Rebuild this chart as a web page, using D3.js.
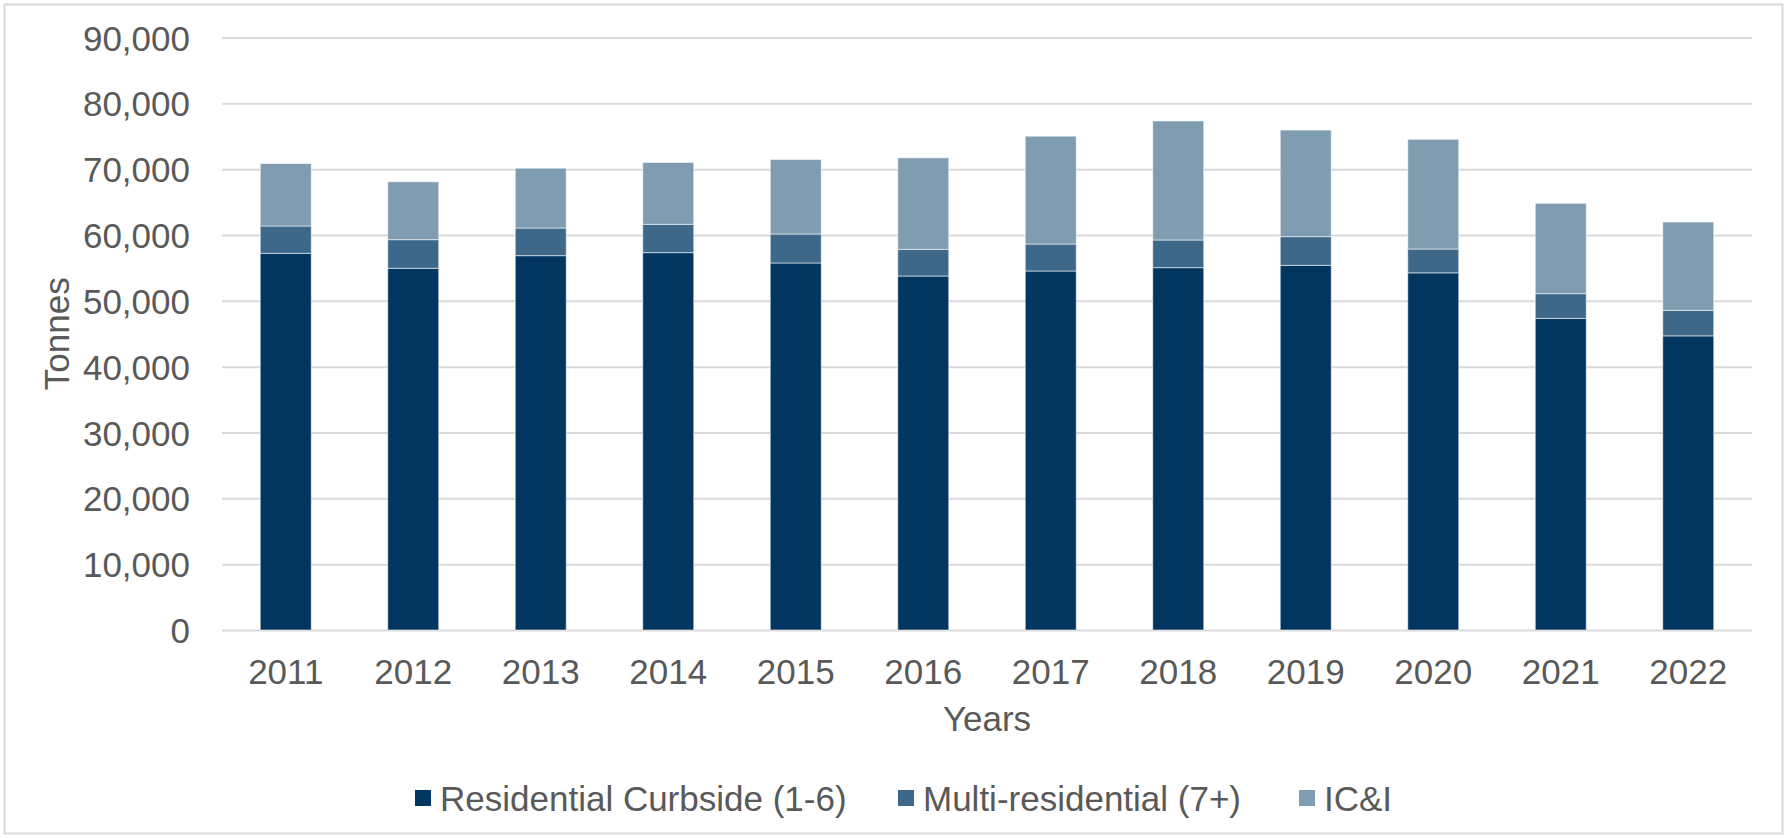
<!DOCTYPE html>
<html>
<head>
<meta charset="utf-8">
<script src="https://cdn.jsdelivr.net/npm/d3@7"></script>
<style>
  html, body { margin: 0; padding: 0; background: #fff; }
  svg { display: block; font-family: "Liberation Sans", Arial, sans-serif; }
</style>
</head>
<body>
<svg id="chart" width="1787" height="838"></svg>
<script>
// Tonnes collected per year, by sector
const years = ["2011","2012","2013","2014","2015","2016","2017","2018","2019","2020","2021","2022"];
const residentialCurbside = [57220, 54940, 56860, 57320, 55750, 53770, 54530, 55040, 55390, 54250, 47340, 44680];
const multiResidential   = [4150, 4350, 4200, 4300, 4400, 4050, 4100, 4200, 4360, 3620, 3750, 3880];
const ici                = [9490, 8790, 9090, 9390, 11320, 13900, 16380, 18080, 16190, 16660, 13720, 13410];
const yTicks = [0, 10000, 20000, 30000, 40000, 50000, 60000, 70000, 80000, 90000];
const seriesNames = ["Residential Curbside (1-6)", "Multi-residential (7+)", "IC&I"];
const seriesKeys = ["res", "multi", "ici"];
const seriesColors = ["#023661", "#3e6889", "#809cb1"];

const svg = d3.select("#chart");
const W = 1787, H = 838;
const margin = { left: 222, right: W - 1752, top: 37.5, bottom: H - 630 };
const plotW = W - margin.left - margin.right;
const plotH = H - margin.top - margin.bottom;
const textColor = "#595959";
const fontSize = 35;

// Outer chart frame
svg.append("rect")
  .attr("x", 4.5).attr("y", 4.5)
  .attr("width", W - 9).attr("height", H - 9)
  .attr("fill", "#fff").attr("stroke", "#d9d9d9").attr("stroke-width", 2);

const g = svg.append("g").attr("transform", `translate(${margin.left},${margin.top})`);

const x = d3.scaleBand().domain(years).range([0, plotW]).paddingInner(0.6).paddingOuter(0.3);
const y = d3.scaleLinear().domain([0, 90000]).range([plotH, 0]);

// Horizontal gridlines
const grid = g.append("g")
  .call(d3.axisLeft(y).tickValues(yTicks).tickSize(-plotW).tickFormat(""));
grid.select(".domain").remove();
grid.selectAll("line").attr("stroke", "#d9d9d9").attr("stroke-width", 2);

// Y-axis labels
const yAxis = g.append("g")
  .call(d3.axisLeft(y).tickValues(yTicks).tickSize(0).tickPadding(32).tickFormat(d3.format(",")));
yAxis.select(".domain").remove();
yAxis.selectAll("text")
  .attr("fill", textColor).attr("font-size", fontSize)
  .attr("font-family", "Liberation Sans, Arial, sans-serif")
  .attr("dy", "0.36em");

// Stacked bars
const rows = years.map((yr, i) => ({
  year: yr, res: residentialCurbside[i], multi: multiResidential[i], ici: ici[i]
}));
const stacked = d3.stack().keys(seriesKeys)(rows);

g.selectAll("g.series")
  .data(stacked)
  .join("g")
  .attr("class", "series")
  .attr("fill", (d, i) => seriesColors[i])
  .selectAll("rect")
  .data(d => d)
  .join("rect")
  .attr("x", d => x(d.data.year))
  .attr("width", x.bandwidth())
  .attr("y", d => y(d[1]))
  .attr("height", d => y(d[0]) - y(d[1]))
  .attr("stroke", "rgba(255,255,255,0.55)")
  .attr("stroke-width", 1);

// X-axis labels
const xAxis = g.append("g")
  .attr("transform", `translate(0,${plotH})`)
  .call(d3.axisBottom(x).tickSize(0).tickPadding(0));
xAxis.select(".domain").remove();
xAxis.selectAll("text")
  .attr("fill", textColor).attr("font-size", fontSize)
  .attr("font-family", "Liberation Sans, Arial, sans-serif")
  .attr("y", 54).attr("dy", 0);

// Axis titles
g.append("text")
  .attr("x", plotW / 2).attr("y", plotH + 101)
  .attr("text-anchor", "middle")
  .attr("fill", textColor).attr("font-size", fontSize)
  .text("Years");

svg.append("text")
  .attr("transform", `translate(69,${margin.top + plotH / 2}) rotate(-90)`)
  .attr("text-anchor", "middle")
  .attr("fill", textColor).attr("font-size", fontSize)
  .text("Tonnes");

// Legend
const legendX = [415, 898, 1299];
const legend = svg.append("g");
seriesNames.forEach((name, i) => {
  const item = legend.append("g").attr("transform", `translate(${legendX[i]},0)`);
  item.append("rect")
    .attr("x", 0).attr("y", 790)
    .attr("width", 16).attr("height", 16)
    .attr("fill", seriesColors[i]);
  item.append("text")
    .attr("x", 25).attr("y", 811)
    .attr("fill", textColor).attr("font-size", fontSize)
    .text(name);
});
</script>
</body>
</html>
